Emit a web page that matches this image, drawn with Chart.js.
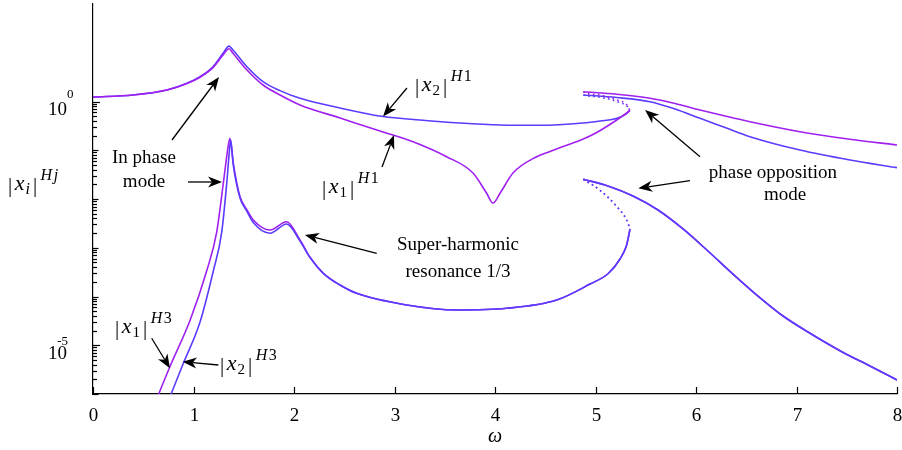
<!DOCTYPE html>
<html><head><meta charset="utf-8">
<script src="https://cdn.jsdelivr.net/npm/chart.js@4.4.1/dist/chart.umd.min.js"></script>
<style>html,body{margin:0;padding:0;background:#fff}#wrap{width:902px;height:450px}</style>
</head><body><div id="wrap"><canvas id="c" width="902" height="450"></canvas></div>
<script>
// ---------- data (omega values and amplitudes) ----------
const xTickValues = [0,1,2,3,4,5,6,7,8];
const yTickLabelValues = [1, 1e-5];
const yTickLabelExps = ['0', '-5'];

// H1, in-phase branch (stable)
const x1H1LowW = [0,0.398,0.736,0.935,1.065,1.194,1.294,1.353,1.393,1.532,1.692,1.861,2.060,2.458,2.856,3.184,3.519,3.781,3.917,3.980,4.050,4.179,4.415,4.547,4.677,4.879,5.012,5.211,5.310,5.343];
const x1H1LowA = [1.24,1.36,1.72,2.33,3.15,4.95,9.0,12.1,9.74,4.43,2.18,1.36,0.848,0.459,0.248,0.150,0.0738,0.0341,0.0131,0.00828,0.0131,0.0341,0.0738,0.0942,0.119,0.170,0.231,0.417,0.581,0.647];
const x2H1LowW = [0,0.398,0.736,0.935,1.065,1.194,1.294,1.353,1.393,1.532,1.692,1.861,2.060,2.458,2.886,3.254,3.652,4.050,4.448,4.876,5.045,5.214,5.303,5.343];
const x2H1LowA = [1.24,1.36,1.72,2.36,3.23,5.17,9.74,13.7,11.4,5.17,2.55,1.67,1.16,0.736,0.492,0.417,0.362,0.330,0.325,0.362,0.398,0.452,0.554,0.67];
// H1, unstable part (dotted)
const h1UnstW = [4.879,4.915,5.045,5.214,5.313,5.343];
const x1H1UnstA = [1.59,1.47,1.36,1.07,0.848,0.647];
const x2H1UnstA = [1.36,1.31,1.22,1.0,0.80,0.67];
// H1, phase opposition branch
const h1UpW = [4.879,5.211,5.542,5.791,6.040,6.289,6.537,7.035,7.532,8.0];
const x1H1UpA = [1.59,1.41,1.163,0.910,0.670,0.504,0.385,0.240,0.168,0.128];
const x2H1UpA = [1.36,1.208,0.991,0.702,0.452,0.293,0.190,0.101,0.0631,0.0439];

// H3, in-phase branch (stable)
const x1H3LowW = [0.622,0.766,0.965,1.131,1.231,1.297,1.347,1.363,1.396,1.463,1.529,1.595,1.761,1.927,2.060,2.159,2.292,2.458,2.624,3.121,3.619,4.116,4.614,4.945,5.127,5.244,5.307,5.330,5.343];
const x1H3LowA = [6.9e-7,3.66e-6,3.22e-5,3.33e-4,2.10e-3,0.0213,0.128,0.176,0.0540,0.0111,6.1e-3,3.71e-3,2.31e-3,3.42e-3,1.44e-3,6.45e-4,2.99e-4,1.72e-4,1.16e-4,6.70e-5,5.29e-5,5.73e-5,8.48e-5,1.80e-4,2.96e-4,5.88e-4,1.09e-3,1.74e-3,2.43e-3];
const x2H3LowW = [0.746,0.899,1.065,1.197,1.281,1.330,1.358,1.370,1.396,1.463,1.529,1.595,1.761,1.927,2.060,2.159,2.292,2.458,2.624,3.121,3.619,4.116,4.614,4.945,5.127,5.244,5.307,5.330,5.343];
const x2H3LowA = [6.9e-7,4.26e-6,3.0e-5,3.33e-4,2.10e-3,0.0203,0.101,0.162,0.0497,0.0105,5.7e-3,3.30e-3,1.98e-3,3.07e-3,1.37e-3,6.3e-4,2.99e-4,1.72e-4,1.16e-4,6.70e-5,5.29e-5,5.73e-5,8.48e-5,1.80e-4,2.96e-4,5.88e-4,1.09e-3,1.74e-3,2.43e-3];
// H3, unstable part (dotted)
const h3UnstW = [4.879,5.045,5.211,5.310,5.343];
const h3UnstA = [0.0254,0.0151,7.02e-3,3.71e-3,2.43e-3];
// H3, phase opposition branch
const h3UpW = [4.879,5.124,5.373,5.622,5.871,6.119,6.368,6.617,6.866,7.114,7.450,7.731,8.0];
const h3UpA = [0.0254,0.0185,0.0115,5.95e-3,2.43e-3,8.57e-4,2.89e-4,1.02e-4,3.98e-5,1.87e-5,7.38e-6,3.75e-6,1.94e-6];

// ---------- styling ----------
const PURPLE = '#a020f0', BLUE = '#5a3cff';
const SERIF = '"Liberation Serif", "Times New Roman", serif';

function pts(xs, ys){ return xs.map((x,i)=>({x:x, y:ys[i]})); }
function ds(xs, ys, color, dotted, order){
  return { data: pts(xs, ys), borderColor: color, backgroundColor: color, borderWidth: 1.6,
    showLine: true, pointRadius: 0, pointHoverRadius: 0, cubicInterpolationMode: 'monotone', fill: false,
    borderDash: dotted ? [1.6, 3.4] : [], order: order };
}

const datasets = [
  ds(x2H1LowW, x2H1LowA, BLUE, false, 2),
  ds(x1H1LowW, x1H1LowA, PURPLE, false, 1),
  ds(h1UnstW, x2H1UnstA, BLUE, true, 2),
  ds(h1UnstW, x1H1UnstA, PURPLE, true, 1),
  ds(h1UpW, x2H1UpA, BLUE, false, 2),
  ds(h1UpW, x1H1UpA, PURPLE, false, 1),
  ds(x2H3LowW, x2H3LowA, BLUE, false, 1),
  ds(x1H3LowW, x1H3LowA, PURPLE, false, 2),
  ds(h3UnstW, h3UnstA, PURPLE, true, 2),
  ds(h3UnstW, h3UnstA, BLUE, true, 1),
  ds(h3UpW, h3UpA, PURPLE, false, 2),
  ds(h3UpW, h3UpA, BLUE, false, 1)
];

// ---------- annotation helpers ----------
function arrow(ctx, x0, y0, x1, y1){
  const a = Math.atan2(y1-y0, x1-x0), L = 14, W = 5.5, N = 10;
  ctx.save();
  ctx.strokeStyle = '#000'; ctx.fillStyle = '#000'; ctx.lineWidth = 1.3;
  ctx.beginPath(); ctx.moveTo(x0, y0); ctx.lineTo(x1 - Math.cos(a)*N, y1 - Math.sin(a)*N); ctx.stroke();
  ctx.translate(x1, y1); ctx.rotate(a);
  ctx.beginPath(); ctx.moveTo(0,0); ctx.lineTo(-L, W); ctx.lineTo(-N, 0); ctx.lineTo(-L, -W); ctx.closePath(); ctx.fill();
  ctx.restore();
}
function mathLabel(ctx, x, y, sub, subItalic, supA, supB, supBItalic){
  ctx.save();
  ctx.fillStyle = '#000'; ctx.textAlign = 'left'; ctx.textBaseline = 'alphabetic';
  const R = '21px ' + SERIF, I = 'italic 22px ' + SERIF, rs = '15px ' + SERIF, is = 'italic 16px ' + SERIF;
  ctx.font = R; ctx.fillText('|', x, y + 2); x += ctx.measureText('|').width + 2.5;
  ctx.font = I; ctx.fillText('x', x, y); x += ctx.measureText('x').width + 1;
  ctx.font = subItalic ? is : rs; ctx.fillText(sub, x, y + 4); x += ctx.measureText(sub).width + 3;
  ctx.font = R; ctx.fillText('|', x, y + 2); x += ctx.measureText('|').width + 3.5;
  ctx.font = is; ctx.fillText(supA, x, y - 10); x += ctx.measureText(supA).width + 1.5;
  ctx.font = supBItalic ? is : '16px ' + SERIF; ctx.fillText(supB, x, y - 10);
  ctx.restore();
}

const annot = {
  id: 'annot',
  afterDraw(chart){
    const ctx = chart.ctx, xs = chart.scales.x, ys = chart.scales.y, ca = chart.chartArea;
    const P = (w, lg) => [xs.getPixelForValue(w), ys.getPixelForValue(Math.pow(10, lg))];
    ctx.save();
    ctx.strokeStyle = '#000'; ctx.fillStyle = '#000'; ctx.lineWidth = 1.2;
    // x ticks (inward) and labels
    ctx.font = '19px ' + SERIF; ctx.textAlign = 'center'; ctx.textBaseline = 'middle';
    xTickValues.forEach(v => {
      const px = Math.round(xs.getPixelForValue(v)) + 0.5;
      ctx.beginPath(); ctx.moveTo(px, ca.bottom); ctx.lineTo(px, ca.bottom - 7); ctx.stroke();
      ctx.fillText(String(v), px, ca.bottom + 22);
    });
    // y ticks (inward): decades 1e-6 .. 1e0 with minor ticks
    for (let k = -6; k <= 0; k++){
      const major = Math.pow(10, k);
      const py = Math.round(ys.getPixelForValue(major)) + 0.5;
      const len = (k === 0 || k === -5) ? 7 : 5.5;
      ctx.beginPath(); ctx.moveTo(ca.left, py); ctx.lineTo(ca.left + len, py); ctx.stroke();
      if (k < 0) {
        for (let m = 2; m <= 9; m++){
          const pm = Math.round(ys.getPixelForValue(m * major)) + 0.5;
          ctx.beginPath(); ctx.moveTo(ca.left, pm); ctx.lineTo(ca.left + 4, pm); ctx.stroke();
        }
      }
    }
    // y tick labels 10^0, 10^-5
    yTickLabelValues.forEach((v, i) => {
      const py = ys.getPixelForValue(v);
      ctx.textAlign = 'right'; ctx.textBaseline = 'middle';
      ctx.font = '19px ' + SERIF; ctx.fillText('10', ca.left - 26, py + 9);
      ctx.font = '13px ' + SERIF;
      if (yTickLabelExps[i] === '0') { ctx.textAlign = 'left'; ctx.fillText('0', ca.left - 26, py - 7); }
      else { ctx.textAlign = 'right'; ctx.fillText(yTickLabelExps[i], ca.left - 25, py - 4); }
    });
    // axis titles
    ctx.font = 'italic 20px ' + SERIF; ctx.textAlign = 'center'; ctx.textBaseline = 'middle';
    ctx.fillText('\u03c9', xs.getPixelForValue(4), ca.bottom + 43);
    mathLabel(ctx, 8, 190, 'i', true, 'H', 'j', true);

    // text annotations
    ctx.font = '19px ' + SERIF; ctx.textAlign = 'center'; ctx.textBaseline = 'middle'; ctx.fillStyle = '#000';
    const texts = [
      ['In phase', 0.507, -1.159], ['mode', 0.507, -1.651],
      ['Super-harmonic', 3.632, -2.944], ['resonance 1/3', 3.632, -3.491],
      ['phase opposition', 6.766, -1.473], ['mode', 6.886, -1.918]
    ];
    texts.forEach(t => { const p = P(t[1], t[2]); ctx.fillText(t[0], p[0], p[1]); });

    // math labels
    let p;
    p = P(3.204, 0.215); mathLabel(ctx, p[0], p[1], '2', false, 'H', '1', false);
    p = P(2.279, -1.877); mathLabel(ctx, p[0], p[1], '1', false, 'H', '1', false);
    p = P(0.219, -4.749); mathLabel(ctx, p[0], p[1], '1', false, 'H', '3', false);
    p = P(1.264, -5.508); mathLabel(ctx, p[0], p[1], '2', false, 'H', '3', false);

    // arrows
    const arrows = [
      [0.786,-0.790, 1.254,0.503],
      [0.945,-1.651, 1.284,-1.651],
      [3.124,0.277, 2.886,-0.308],
      [2.876,-1.344, 2.995,-0.687],
      [2.823,-3.114, 2.109,-2.738],
      [6.040,-1.132, 5.493,-0.174],
      [5.940,-1.621, 5.426,-1.781],
      [0.584,-4.856, 0.766,-5.472],
      [1.247,-5.405, 0.892,-5.338]
    ];
    arrows.forEach(a => { const s = P(a[0], a[1]), e = P(a[2], a[3]); arrow(ctx, s[0], s[1], e[0], e[1]); });
    ctx.restore();
  }
};

new Chart(document.getElementById('c'), {
  type: 'scatter',
  data: { datasets: datasets },
  options: {
    responsive: false, animation: false, devicePixelRatio: 1,
    layout: { padding: { left: 93, right: 5, top: 4, bottom: 56 } },
    plugins: { legend: { display: false }, tooltip: { enabled: false } },
    scales: {
      x: { type: 'linear', min: 0, max: 8,
           grid: { display: false, drawTicks: false }, border: { display: true, color: '#000', width: 1.2 },
           ticks: { display: false } },
      y: { type: 'logarithmic', min: 1e-6, max: 100,
           grid: { display: false, drawTicks: false }, border: { display: true, color: '#000', width: 1.2 },
           ticks: { display: false } }
    }
  },
  plugins: [annot]
});
</script>
</body></html>
